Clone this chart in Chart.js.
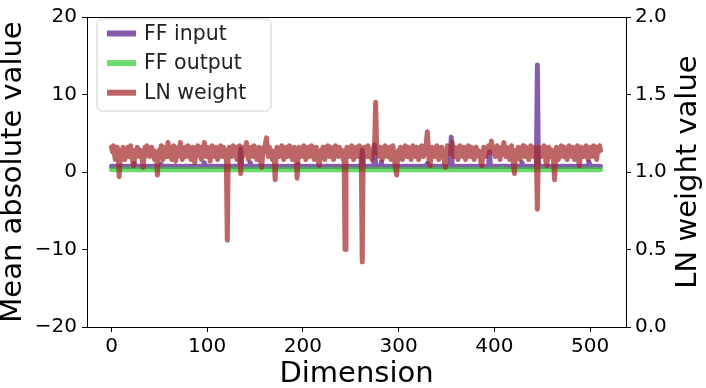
<!DOCTYPE html>
<html>
<head>
<meta charset="utf-8">
<script src="https://cdn.jsdelivr.net/npm/chart.js@4/dist/chart.umd.min.js"></script>
<style>
html,body{margin:0;padding:0;background:#fff;}
#c{display:block;}
</style>
</head>
<body>
<canvas id="c" width="706" height="388"></canvas>
<script>
// ---------------- data ----------------
const SERIES_NAMES = ["FF input", "FF output", "LN weight"];
const X_TITLE = "Dimension";
const LEFT_TITLE = "Mean absolute value";
const RIGHT_TITLE = "LN weight value";
const X_TICKS = [0, 100, 200, 300, 400, 500];
const LEFT_TICKS = [-20, -10, 0, 10, 20];
const RIGHT_TICKS = [0, 0.5, 1.0, 1.5, 2.0];

const ffInput = [
.74,.71,.73,.70,.72,.75,.71,.73,.70,.72,.74,.71,.73,.72,.70,.74,
.72,.71,.73,.70,.74,.72,.71,.73,1.1,.72,.70,.74,.71,.73,.72,.70,
.73,.71,.74,.72,.70,.73,.71,.75,.72,.70,.73,.71,.74,.72,.70,.73,
.71,.74,.72,.70,1.0,.73,.71,.72,.74,.70,.73,.71,.72,.74,.70,.73,
.72,.70,.74,.71,.73,.72,.70,.74,.71,.73,.72,.70,.73,.71,.74,.72,
.70,.73,.71,.74,.72,.70,.73,.71,.72,.74,.70,.73,.71,.72,.74,.70,
.73,1.2,.72,.70,.74,.71,.73,.72,.70,.74,.71,.73,.72,.70,.73,.71,
.74,.72,.70,.73,.71,.72,.74,.70,.73,.71,.72,.74,.70,.73,.71,.72,
.74,.70,.73,.71,.72,.74,.70,3.0,.73,.71,.72,.74,.70,.73,.71,.72,
.74,1.2,.70,.73,.71,.72,.74,.70,.73,.71,.72,.74,.70,.73,.71,.72,
.74,.70,.73,.71,.72,.74,.70,.73,.71,.72,.74,.70,.73,.71,.72,.74,
.70,.73,.71,.72,.74,.70,.73,.71,.72,.74,.70,.73,.71,.72,.74,.70,
.73,.71,.72,1.0,.74,.70,.73,.71,.72,.74,.70,.73,.71,.72,.74,.70,
.73,.71,.72,.74,.70,.73,.71,.72,.74,.70,.73,.71,.72,.74,.70,.73,
.71,.72,.74,.70,.73,.71,.72,.74,.70,.73,.71,.72,.74,.70,.73,.71,
.72,.74,.70,.73,.71,.72,.74,.70,.73,.71,.72,.74,.70,.73,.71,.72,
.74,.70,.73,.71,.72,.74,2.8,.73,.71,.72,.74,.70,.73,.71,.72,.74,
.70,.73,.71,3.5,.72,.74,.70,.73,.71,.72,1.3,.70,.73,.71,.72,.74,
.70,.73,.71,.72,.74,.70,.73,.71,.72,.74,.70,.73,.71,.72,.74,.70,
.73,.71,.72,.74,.70,.73,.71,.72,.74,.70,.73,.71,.72,.74,.70,.73,
.71,.72,.74,.70,.73,.71,.72,.74,.70,.73,1.1,.72,.74,.70,.73,.71,
.72,.74,.70,.73,.71,.72,.74,.70,.73,.71,.72,.74,.70,.73,.71,.72,
.74,.70,.73,4.5,.72,.74,.70,.73,.71,.72,.74,.70,.73,.71,.72,.74,
.70,.73,.71,.72,.74,.70,.73,.71,.72,.74,.70,.73,.71,.72,.74,.70,
.73,.71,.72,.74,.70,.73,.71,.72,.74,.70,.73,2.6,.72,.74,.70,.73,
.71,.72,.74,.70,.73,.71,.72,.74,.70,.73,.71,.72,.74,.70,.73,.71,
.72,.74,.70,.73,.71,.72,.74,.70,.73,.71,.72,.74,.70,1.2,.71,.72,
.74,.70,.73,.71,.72,.74,.70,.73,.71,.72,.74,.70,.73,13.8,.72,.74,
.70,.73,.71,.72,.74,.70,.73,.71,.72,.74,.70,.73,.71,.72,.74,.70,
.73,.71,.72,.74,.70,.73,.71,.72,.74,.70,.73,.71,.72,.74,.70,.73,
.71,.72,.74,.70,.73,.71,.72,.74,.70,.73,.71,.72,.74,.70,.73,.71,
.72,.74,.70,1.3,.73,.71,.72,.74,.70,.73,.71,.72,.74,.70,.73,.72
];

const ffOutput = [
.30,.31,.29,.30,.32,.30,.29,.31,.30,.30,.31,.29,.30,.32,.30,.29,
.31,.30,.30,.29,.45,.30,.31,.29,.30,.32,.30,.29,.31,.30,.30,.31,
.29,.30,.32,.30,.29,.31,.30,.30,.31,.29,.30,.32,.30,.29,.31,.30,
.30,.31,.29,.30,.32,.30,.29,.31,.30,.30,.31,.29,.30,.32,.30,.29,
.31,.30,.30,.31,.29,.30,.32,.30,.29,.31,.30,.30,.31,.29,.30,.32,
.30,.29,.31,.30,.30,.31,.29,.30,.32,.30,.29,.31,.30,.30,.31,.29,
.30,.32,.30,.29,.31,.30,.30,.31,.29,.30,.32,.30,.29,.31,.30,.30,
.31,.29,.30,.32,.30,.29,.31,.30,.30,.31,.29,.30,.32,.30,.29,.31,
.30,.30,.31,.29,.30,.32,.30,.29,.31,.30,.30,.31,.29,.30,.32,.30,
.29,.31,.30,.30,.31,.29,.30,.32,.30,.29,.31,.30,.30,.31,.29,.30,
.32,.30,.29,.31,.30,.30,.31,.29,.30,.32,.30,.29,.31,.30,.30,.31,
.29,.30,.32,.30,.29,.31,.30,.30,.31,.29,.30,.32,.30,.29,.31,.30,
.30,.31,.29,.30,.32,.30,.29,.31,.30,.30,.31,.29,.30,.32,.30,.29,
.31,.30,.30,.31,.29,.30,.32,.30,.29,.31,.30,.30,.31,.29,.30,.32,
.30,.29,.31,.30,.30,.31,.29,.30,.32,.30,.29,.31,.30,.30,.31,.29,
.30,.32,.30,.29,.31,.30,.30,.31,.29,.30,.32,.30,.29,.31,.30,.30,
.31,.29,.30,.32,.30,.29,.31,.30,.30,.31,.29,.30,.32,.30,.29,.31,
.30,.30,.31,.29,.30,.32,.30,.29,.31,.30,.30,.31,.29,.30,.32,.30,
.29,.31,.30,.30,.31,.29,.30,.32,.30,.29,.31,.30,.30,.31,.29,.30,
.32,.30,.29,.31,.30,.30,.31,.29,.30,.32,.30,.29,.31,.30,.30,.31,
.29,.30,.32,.30,.29,.31,.30,.30,.31,.29,.30,.32,.30,.29,.31,.30,
.30,.31,.29,.30,.32,.30,.29,.31,.30,.30,.31,.29,.30,.32,.30,.29,
.31,.30,.30,.31,.29,.30,.32,.30,.29,.31,.30,.30,.31,.29,.30,.32,
.30,.29,.31,.30,.30,.31,.29,.30,.32,.30,.29,.31,.30,.30,.31,.29,
.30,.32,.30,.29,.31,.30,.30,.31,.29,.30,.32,.30,.29,.31,.30,.30,
.31,.29,.30,.32,.30,.29,.31,.30,.50,.31,.29,.30,.32,.30,.29,.31,
.30,.30,.31,.29,.30,.32,.30,.29,.31,.30,.30,.31,.29,.30,.32,.30,
.29,.31,.30,.30,.31,.29,.30,.32,.30,.29,.31,.30,.30,.31,.29,.30,
.32,.30,.29,.31,.30,.30,.31,.29,.30,.32,.30,.29,.31,.30,.30,.31,
.29,.30,.32,.30,.29,.31,.30,.30,.31,.29,.30,.32,.30,.29,.31,.30,
.30,.31,.29,.30,.32,.30,.29,.31,.30,.30,.31,.29,.30,.32,.30,.29,
.31,.30,.30,.31,.29,.30,.32,.30,.29,.31,.30,.30,.31,.29,.30,.31
];

const lnWeight = [
1.16,1.13,1.17,1.12,1.08,1.13,1.16,1.10,0.97,1.07,1.14,1.12,1.16,1.13,1.08,1.14,
1.12,1.16,1.10,1.13,1.17,1.12,1.07,1.04,1.08,1.14,1.12,1.16,1.13,1.10,1.14,1.12,
1.08,1.03,1.10,1.16,1.13,1.17,1.12,1.14,1.10,1.13,1.16,1.12,1.14,1.08,1.13,1.12,
0.98,1.10,1.14,1.12,1.17,1.13,1.08,1.16,1.12,1.14,1.10,1.19,1.13,1.12,1.16,1.08,
1.13,1.17,1.12,1.07,1.14,1.10,1.16,1.13,1.19,1.12,1.08,1.14,1.12,1.16,1.10,1.13,
1.17,1.12,1.14,1.08,1.13,1.16,1.12,1.06,1.14,1.10,1.17,1.13,1.12,1.16,1.08,1.14,
1.12,1.19,1.13,1.10,1.16,1.12,1.14,1.07,1.13,1.17,1.12,1.14,1.10,1.16,1.13,1.08,
1.14,1.12,1.17,1.13,1.10,1.16,1.12,1.14,1.08,0.56,1.13,1.16,1.12,1.14,1.10,1.17,
1.13,1.12,1.16,1.08,1.14,1.12,1.17,0.99,1.13,1.10,1.16,1.12,1.14,1.19,1.12,1.08,
1.14,1.12,1.16,1.13,1.10,1.17,1.12,1.14,1.08,1.13,1.16,1.12,1.06,1.03,1.12,1.16,
1.13,1.19,1.22,1.14,1.10,1.16,1.12,1.14,1.08,1.13,1.10,0.95,1.12,1.16,1.13,1.10,
1.14,1.12,1.17,1.13,1.08,1.14,1.12,1.16,1.10,1.13,1.17,1.12,1.14,1.08,1.13,1.16,
1.12,1.08,0.96,1.12,1.16,1.13,1.10,1.14,1.12,1.17,1.13,1.08,1.14,1.12,1.16,1.10,
1.13,1.17,1.12,1.14,1.08,1.13,1.16,1.12,1.07,1.04,1.10,1.14,1.12,1.16,1.13,1.08,
1.14,1.12,1.17,1.13,1.10,1.16,1.12,1.14,1.08,1.13,1.17,1.12,1.14,1.10,1.16,1.13,
1.12,1.14,1.08,1.13,0.50,1.12,1.16,1.13,1.10,1.14,1.12,1.17,1.13,1.08,1.14,1.12,
1.16,1.10,1.13,1.17,1.12,1.08,0.42,1.13,1.16,1.12,1.14,1.10,1.17,1.13,1.12,1.14,
1.08,1.13,1.16,1.19,1.45,1.17,1.12,1.14,1.10,1.16,1.13,1.08,1.14,1.12,1.17,1.13,
1.10,1.14,1.12,1.16,1.08,1.13,1.17,1.12,1.06,1.02,0.98,1.10,1.14,1.12,1.16,1.13,
1.08,1.14,1.12,1.17,1.13,1.10,1.16,1.12,1.14,1.08,1.13,1.17,1.12,1.14,1.10,1.16,
1.13,1.08,1.14,1.12,1.17,1.13,1.10,1.16,1.12,1.19,1.26,1.16,1.06,1.04,1.12,1.16,
1.13,1.10,1.14,1.12,1.17,1.13,1.08,1.14,1.12,1.16,1.10,1.13,1.06,1.03,1.12,1.17,
1.13,1.16,1.12,1.14,1.19,1.13,1.10,1.16,1.12,1.14,1.08,1.13,1.17,1.12,1.14,1.10,
1.16,1.13,1.08,1.14,1.12,1.17,1.13,1.10,1.16,1.12,1.14,1.08,1.13,1.16,1.12,1.14,
1.10,1.13,1.06,1.04,1.12,1.16,1.13,1.10,1.14,1.12,1.17,1.16,1.13,1.20,1.14,1.12,
1.16,1.10,1.13,1.17,1.12,1.14,1.08,1.13,1.16,1.12,1.19,1.14,1.10,1.16,1.12,1.14,
1.08,1.13,1.17,1.12,1.05,0.99,1.10,1.14,1.12,1.16,1.13,1.08,1.14,1.12,1.17,1.13,
1.10,1.16,1.12,1.14,1.08,1.13,1.17,1.12,1.14,1.10,1.16,1.13,1.08,0.76,1.12,1.16,
1.13,1.10,1.14,1.12,1.17,1.13,1.07,1.04,1.12,1.16,1.13,1.10,1.14,1.12,1.06,0.95,
1.12,1.16,1.13,1.08,1.14,1.12,1.17,1.13,1.10,1.16,1.12,1.14,1.08,1.13,1.17,1.12,
1.14,1.10,1.16,1.13,1.08,1.14,1.12,1.17,1.07,1.04,1.12,1.16,1.13,1.10,1.14,1.12,
1.17,1.13,1.08,1.14,1.12,1.16,1.10,1.13,1.17,1.14,1.12,1.08,1.16,1.13,1.17,1.14
];

// ---------------- styling ----------------
const COLORS = ["rgba(102,51,153,0.8)", "rgba(50,205,50,0.72)", "rgba(165,42,42,0.72)"];
const FONT = "'DejaVu Sans', 'Liberation Sans', sans-serif";

function toXY(arr){ return arr.map((v,i)=>({x:i, y:v})); }
function minus(s){ return String(s).replace('-', '\u2212'); }

const frame = {
  id: 'frame',
  afterDatasetsDraw(chart){
    const {ctx, chartArea:a} = chart;
    ctx.save();
    ctx.strokeStyle = '#000';
    ctx.lineWidth = 1;
    ctx.strokeRect(Math.round(a.left)+0.5, Math.round(a.top)+0.5, Math.round(a.right-a.left), Math.round(a.bottom-a.top));
    ctx.restore();
  }
};

// right-axis title reads bottom-to-top, like matplotlib's twin-axis label
const rightTitle = {
  id: 'rightTitle',
  afterDraw(chart){
    const ctx = chart.ctx, a = chart.chartArea;
    ctx.save();
    ctx.translate(696, (a.top + a.bottom) / 2);
    ctx.rotate(-Math.PI / 2);
    ctx.font = "29px " + FONT;
    ctx.fillStyle = '#000';
    ctx.textAlign = 'center';
    ctx.textBaseline = 'alphabetic';
    ctx.fillText(RIGHT_TITLE, 0, 0);
    ctx.restore();
  }
};

const legendBox = {
  id: 'legendBox',
  afterDraw(chart){
    const ctx = chart.ctx;
    const x0 = 97, y0 = 19, w = 174, h = 92, r = 5;
    ctx.save();
    ctx.beginPath();
    ctx.moveTo(x0+r, y0);
    ctx.arcTo(x0+w, y0, x0+w, y0+h, r);
    ctx.arcTo(x0+w, y0+h, x0, y0+h, r);
    ctx.arcTo(x0, y0+h, x0, y0, r);
    ctx.arcTo(x0, y0, x0+w, y0, r);
    ctx.closePath();
    ctx.fillStyle = 'rgba(255,255,255,0.8)';
    ctx.fill();
    ctx.strokeStyle = '#d0d0d0';
    ctx.lineWidth = 1;
    ctx.stroke();
    chart.data.datasets.forEach((ds, i) => {
      const y = 33.5 + i*29.6;
      ctx.beginPath();
      ctx.moveTo(107, y); ctx.lineTo(136, y);
      ctx.strokeStyle = ds.borderColor;
      ctx.lineWidth = 6;
      ctx.lineCap = 'butt';
      ctx.stroke();
      ctx.fillStyle = '#222';
      ctx.font = "20.5px " + FONT;
      ctx.textBaseline = 'middle';
      ctx.textAlign = 'left';
      ctx.fillText(ds.label, 144, y+1);
    });
    ctx.restore();
  }
};

const tickFont = {family: FONT, size: 20};
const titleFont = {family: FONT, size: 29, lineHeight: 0.9};
const gridOpts = {display:true, drawOnChartArea:false, drawTicks:true, tickLength:5, color:'#000', lineWidth:1};

new Chart(document.getElementById('c'), {
  type: 'line',
  data: {
    datasets: [
      {label: SERIES_NAMES[0], data: toXY(ffInput), yAxisID: 'y', borderColor: COLORS[0], order: 2},
      {label: SERIES_NAMES[1], data: toXY(ffOutput), yAxisID: 'y', borderColor: COLORS[1], order: 1},
      {label: SERIES_NAMES[2], data: toXY(lnWeight), yAxisID: 'y1', borderColor: COLORS[2], order: 0}
    ].map(d => Object.assign(d, {borderWidth: 5, pointRadius: 0, tension: 0, fill: false,
      borderJoinStyle: 'round', borderCapStyle: 'round', backgroundColor: d.borderColor}))
  },
  options: {
    responsive: false,
    animation: false,
    devicePixelRatio: 1,
    layout: {padding: {top: 12, left: 0, right: 0, bottom: 0}},
    plugins: {legend: {display: false}, tooltip: {enabled: false}},
    scales: {
      x: {
        type: 'linear', position: 'bottom', min: -25.6, max: 537.6,
        afterBuildTicks: s => { s.ticks = X_TICKS.map(v => ({value: v})); },
        afterFit: s => { s.height = 61; },
        grid: gridOpts,
        border: {display: true, color: '#000', width: 1},
        ticks: {font: tickFont, color: '#000', padding: 3, maxRotation: 0, autoSkip: false},
        title: {display: true, text: X_TITLE, font: titleFont, color: '#000', padding: {top: 0, bottom: 0}}
      },
      y: {
        type: 'linear', position: 'left', min: -20, max: 20,
        afterBuildTicks: s => { s.ticks = LEFT_TICKS.map(v => ({value: v})); },
        afterFit: s => { s.width = 87; },
        grid: gridOpts,
        border: {display: true, color: '#000', width: 1},
        ticks: {font: tickFont, color: '#000', padding: 5, callback: v => minus(v)},
        title: {display: true, text: LEFT_TITLE, font: titleFont, color: '#000', padding: {top: 0, bottom: 0}}
      },
      y1: {
        type: 'linear', position: 'right', min: 0, max: 2,
        afterBuildTicks: s => { s.ticks = RIGHT_TICKS.map(v => ({value: v})); },
        afterFit: s => { s.width = 80; },
        grid: gridOpts,
        border: {display: true, color: '#000', width: 1},
        ticks: {font: tickFont, color: '#000', padding: 4, callback: v => Number(v).toFixed(1)},
        title: {display: false}
      }
    }
  },
  plugins: [frame, legendBox, rightTitle]
});
</script>
</body>
</html>
